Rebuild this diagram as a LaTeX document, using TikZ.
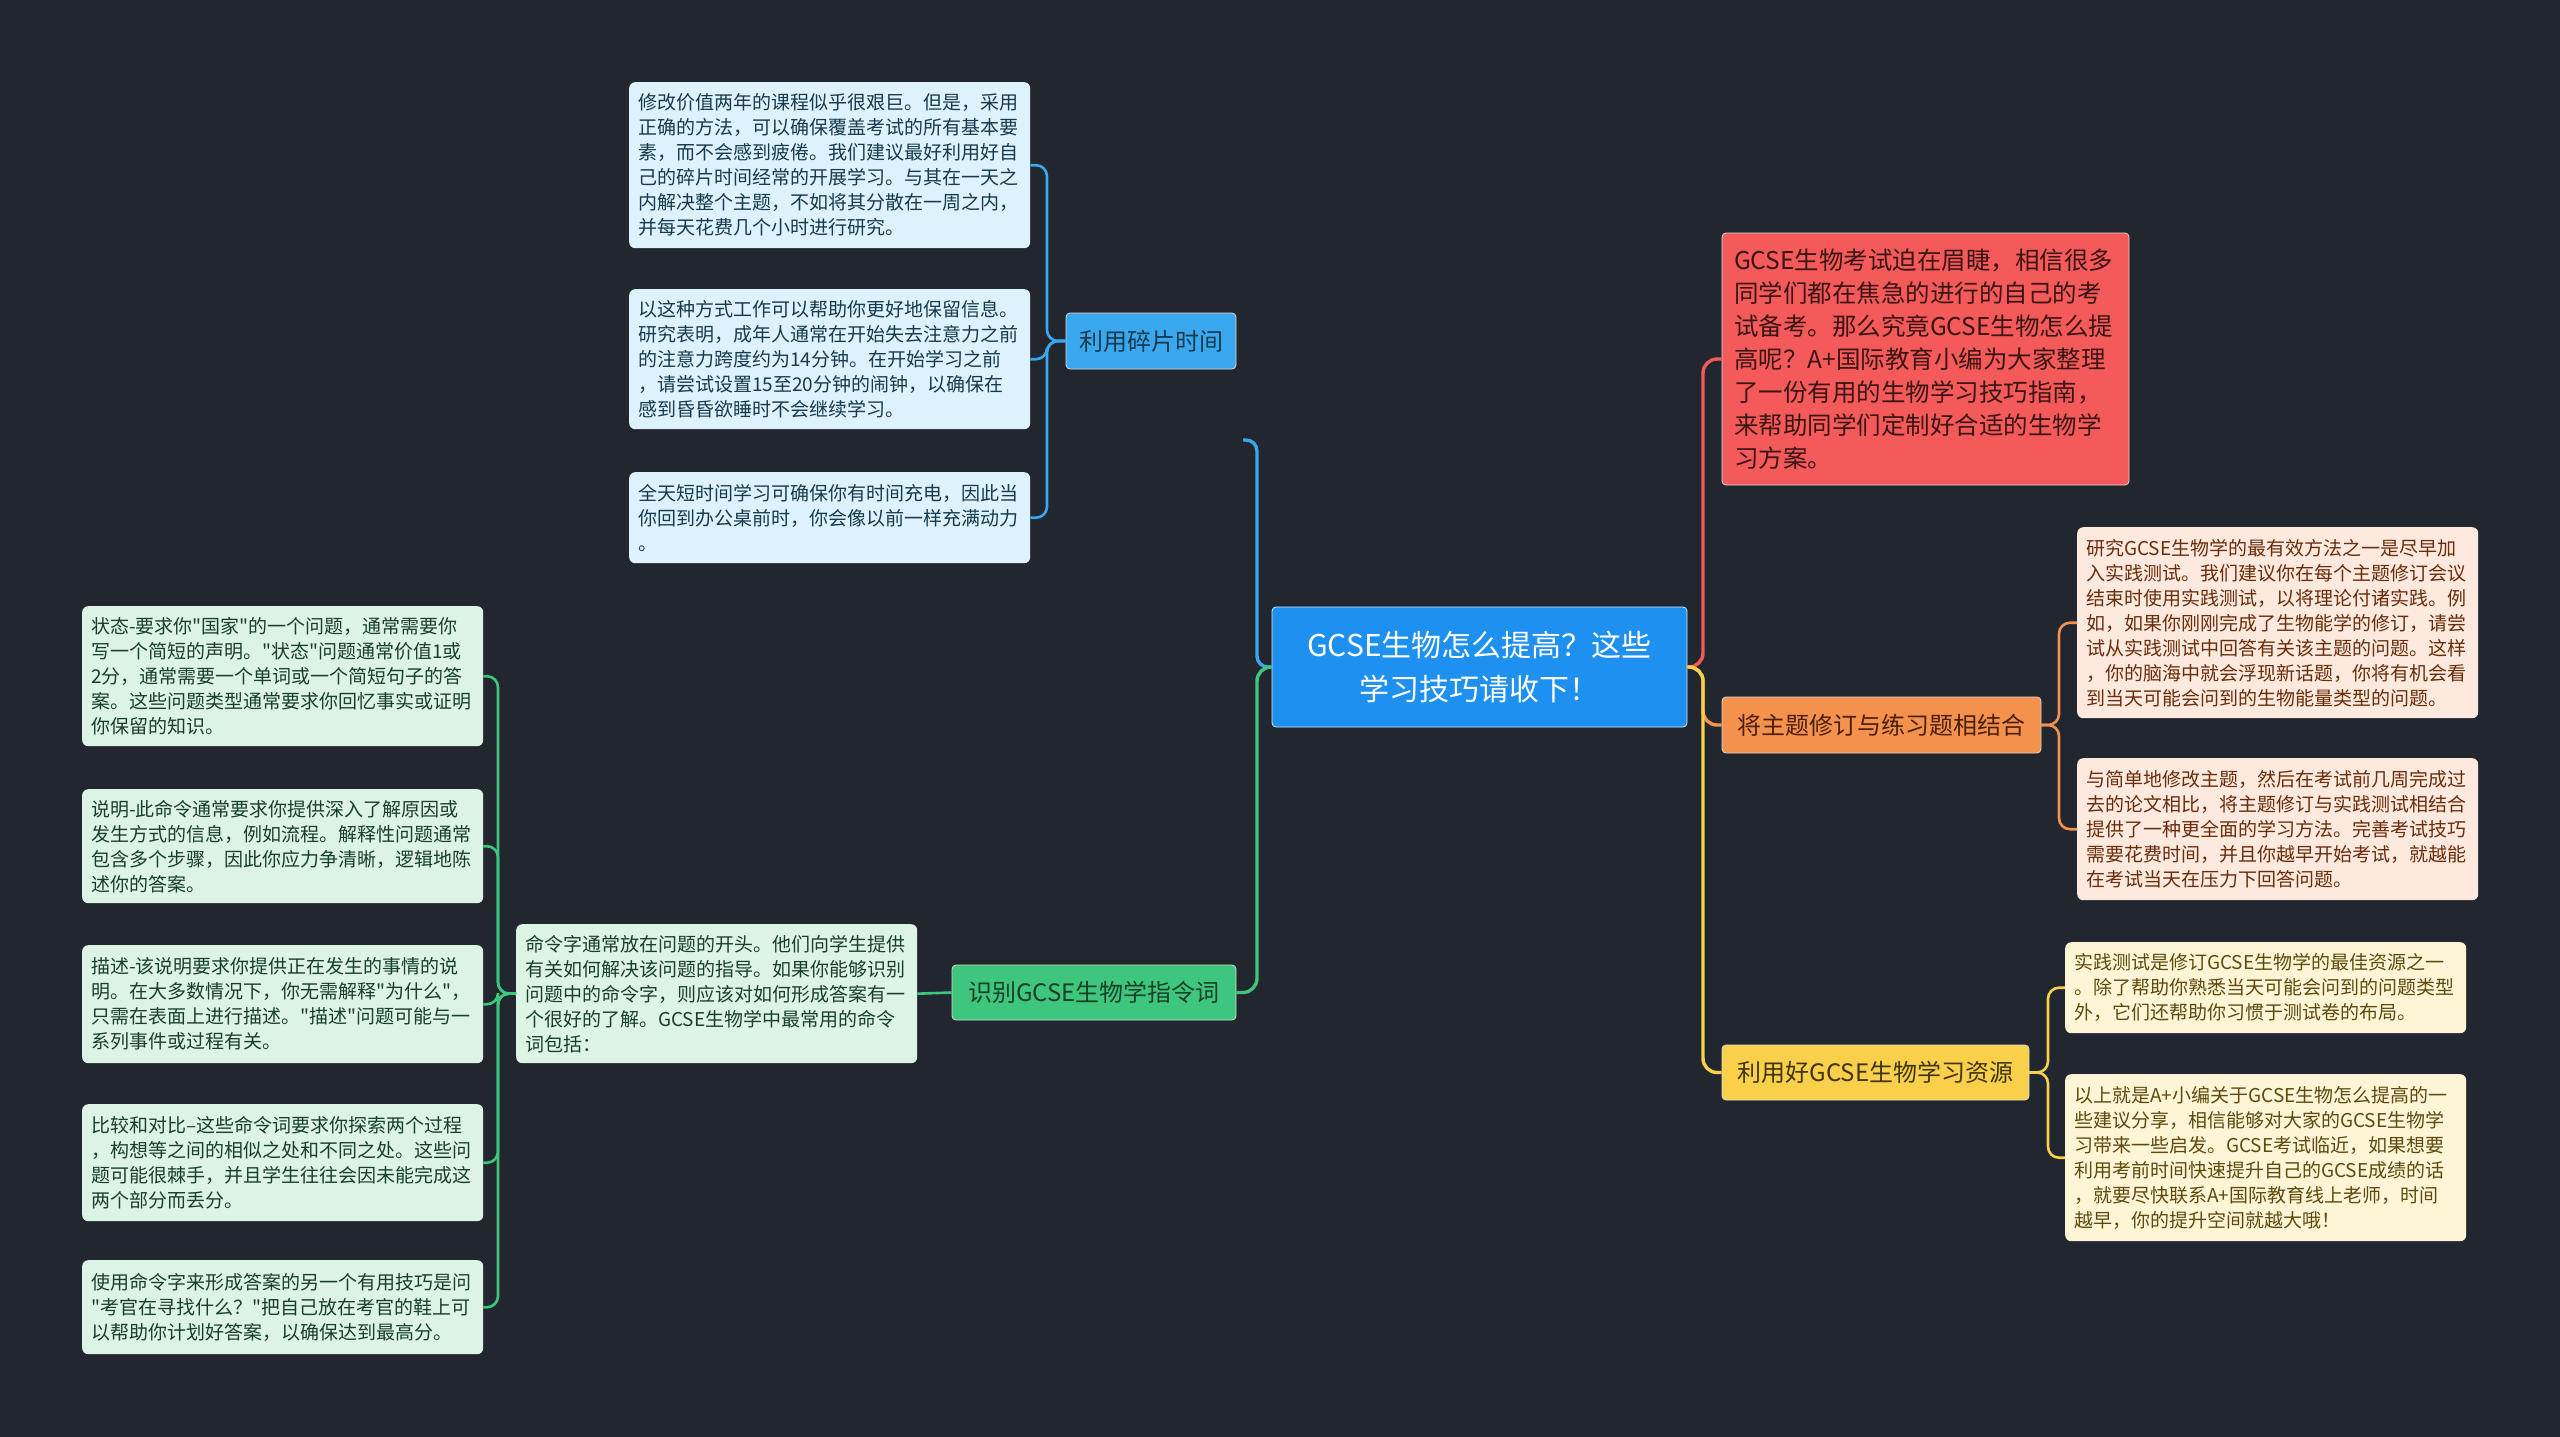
\documentclass[tikz,border=0pt]{standalone}
\usepackage{fontspec}
\newfontfamily\cjk{Noto Sans CJK SC}
\definecolor{bg}{HTML}{22262E}
\definecolor{cblue}{HTML}{1E90F0}
\definecolor{bblue}{HTML}{3AA8EE}
\definecolor{lblue}{HTML}{DDF2FC}
\definecolor{tblue}{HTML}{163A4E}
\definecolor{bgreen}{HTML}{3EC67C}
\definecolor{lgreen}{HTML}{DCF3E6}
\definecolor{tgreen}{HTML}{17402A}
\definecolor{bred}{HTML}{F45A5A}
\definecolor{tred}{HTML}{3B1414}
\definecolor{borange}{HTML}{F4914C}
\definecolor{lorange}{HTML}{FDE9DD}
\definecolor{torange}{HTML}{6A2D0C}
\definecolor{byellow}{HTML}{F8D04A}
\definecolor{lyellow}{HTML}{FDF5D6}
\definecolor{tyellow}{HTML}{5E4A0E}
\newcommand\leaffont{\cjk\fontsize{19}{25}\selectfont}
\newcommand\branchfont{\cjk\fontsize{24}{30}\selectfont}
\newcommand\redfont{\cjk\fontsize{24.5}{33}\selectfont}
\newcommand\centerfont{\cjk\fontsize{30}{44}\selectfont}
\begin{document}
\begin{tikzpicture}[x=1pt,y=-1pt,
  leaf/.style={rounded corners=6pt, text width=383pt, align=left, inner xsep=9pt, inner ysep=0pt, anchor=north west, font=\leaffont},
  bleaf/.style={leaf, fill=lblue, text=tblue},
  gleaf/.style={leaf, fill=lgreen, text=tgreen},
  oleaf/.style={leaf, fill=lorange, text=torange},
  yleaf/.style={leaf, fill=lyellow, text=tyellow},
  branch/.style={rounded corners=4pt, draw=white!85!black, line width=0.8pt, inner sep=0pt, align=center, font=\branchfont},
  conn/.style={line width=2.6pt, rounded corners=11pt},
  mconn/.style={line width=3.4pt, rounded corners=14pt}]
\path[fill=bg] (0,0) rectangle (2560,1437);

% centre
\node[rounded corners=4pt, fill=cblue, draw=white!80!cblue, line width=0.8pt, minimum width=415pt, minimum height=120pt, align=center, text=white, font=\centerfont, inner sep=0pt] (c) at (1479.5,667) {GCSE生物怎么提高？这些\\学习技巧请收下！};

% branches
\node[branch, fill=bblue, text=tblue, minimum width=170pt, minimum height=56pt] (b1) at (1151,341) {利用碎片时间};
\node[branch, fill=bgreen, text=tgreen, minimum width=284pt, minimum height=55pt] (b2) at (1094,992.5) {识别GCSE生物学指令词};
\node[branch, fill=bred, text=tred, minimum width=407pt, minimum height=252pt, text width=383pt, align=left, font=\redfont] (br) at (1925.5,359) {GCSE生物考试迫在眉睫，相信很多\\同学们都在焦急的进行的自己的考\\试备考。那么究竟GCSE生物怎么提\\高呢？A+国际教育小编为大家整理\\了一份有用的生物学习技巧指南，\\来帮助同学们定制好合适的生物学\\习方案。};
\node[branch, fill=borange, text=torange!70!black, minimum width=319pt, minimum height=56pt] (bo) at (1881.5,725) {将主题修订与练习题相结合};
\node[branch, fill=byellow, text=tyellow!70!black, minimum width=307pt, minimum height=55pt] (by) at (1875.5,1072.5) {利用好GCSE生物学习资源};

% blue leaves
\node[bleaf, minimum height=166pt] (l1) at (629,82) {修改价值两年的课程似乎很艰巨。但是，采用\\正确的方法，可以确保覆盖考试的所有基本要\\素，而不会感到疲倦。我们建议最好利用好自\\己的碎片时间经常的开展学习。与其在一天之\\内解决整个主题，不如将其分散在一周之内，\\并每天花费几个小时进行研究。};
\node[bleaf, minimum height=140pt] (l2) at (629,289) {以这种方式工作可以帮助你更好地保留信息。\\研究表明，成年人通常在开始失去注意力之前\\的注意力跨度约为14分钟。在开始学习之前\\，请尝试设置15至20分钟的闹钟，以确保在\\感到昏昏欲睡时不会继续学习。};
\node[bleaf, minimum height=91pt] (l3) at (629,472) {全天短时间学习可确保你有时间充电，因此当\\你回到办公桌前时，你会像以前一样充满动力\\。};

% green
\node[gleaf, minimum height=139pt] (gc) at (516,924) {命令字通常放在问题的开头。他们向学生提供\\有关如何解决该问题的指导。如果你能够识别\\问题中的命令字，则应该对如何形成答案有一\\个很好的了解。GCSE生物学中最常用的命令\\词包括：};
\node[gleaf, minimum height=140pt] (g1) at (82,606) {状态-要求你"国家"的一个问题，通常需要你\\写一个简短的声明。"状态"问题通常价值1或\\2分，通常需要一个单词或一个简短句子的答\\案。这些问题类型通常要求你回忆事实或证明\\你保留的知识。};
\node[gleaf, minimum height=114pt] (g2) at (82,789) {说明-此命令通常要求你提供深入了解原因或\\发生方式的信息，例如流程。解释性问题通常\\包含多个步骤，因此你应力争清晰，逻辑地陈\\述你的答案。};
\node[gleaf, minimum height=118pt] (g3) at (82,945) {描述-该说明要求你提供正在发生的事情的说\\明。在大多数情况下，你无需解释"为什么"，\\只需在表面上进行描述。"描述"问题可能与一\\系列事件或过程有关。};
\node[gleaf, minimum height=117pt] (g4) at (82,1104) {比较和对比–这些命令词要求你探索两个过程\\，构想等之间的相似之处和不同之处。这些问\\题可能很棘手，并且学生往往会因未能完成这\\两个部分而丢分。};
\node[gleaf, minimum height=94pt] (g5) at (82,1260) {使用命令字来形成答案的另一个有用技巧是问\\"考官在寻找什么？"把自己放在考官的鞋上可\\以帮助你计划好答案，以确保达到最高分。};

% orange
\node[oleaf, minimum height=191pt] (o1) at (2077,527) {研究GCSE生物学的最有效方法之一是尽早加\\入实践测试。我们建议你在每个主题修订会议\\结束时使用实践测试，以将理论付诸实践。例\\如，如果你刚刚完成了生物能学的修订，请尝\\试从实践测试中回答有关该主题的问题。这样\\，你的脑海中就会浮现新话题，你将有机会看\\到当天可能会问到的生物能量类型的问题。};
\node[oleaf, minimum height=142pt] (o2) at (2077,758) {与简单地修改主题，然后在考试前几周完成过\\去的论文相比，将主题修订与实践测试相结合\\提供了一种更全面的学习方法。完善考试技巧\\需要花费时间，并且你越早开始考试，就越能\\在考试当天在压力下回答问题。};

% yellow
\node[yleaf, minimum height=91pt] (y1) at (2065,942) {实践测试是修订GCSE生物学的最佳资源之一\\。除了帮助你熟悉当天可能会问到的问题类型\\外，它们还帮助你习惯于测试卷的布局。};
\node[yleaf, minimum height=167pt] (y2) at (2065,1074) {以上就是A+小编关于GCSE生物怎么提高的一\\些建议分享，相信能够对大家的GCSE生物学\\习带来一些启发。GCSE考试临近，如果想要\\利用考前时间快速提升自己的GCSE成绩的话\\，就要尽快联系A+国际教育线上老师，时间\\越早，你的提升空间就越大哦！};

% main connectors
\coordinate (bend) at (1243,440);
\draw[mconn, rounded corners=11pt, draw=bblue] (c.west) -- (1257,667) -- (1257,440) -- (bend);
\draw[mconn, draw=bgreen] (c.west) -- (1257,667) -- (1257,992.5) -- (b2.east);
\draw[mconn, draw=bred] (c.east) -- (1703,667) -- (1703,359) -- (br.west);
\draw[mconn, draw=borange] (c.east) -- (1703,667) -- (1703,725) -- (bo.west);
\draw[mconn, draw=byellow] (c.east) -- (1703,667) -- (1703,1072.5) -- (by.west);

% blue leaf connectors
\foreach \n in {l1,l2,l3}
  \draw[conn, draw=bblue] (b1.west) -- (1047,341) |- (\n.east);
% green
\draw[conn, draw=bgreen] (b2.west) -- (gc.east);
\foreach \n in {g1,g2,g3,g4,g5}
  \draw[conn, draw=bgreen] (gc.west) -- (498,993.5) |- (\n.east);
% orange
\foreach \n in {o1,o2}
  \draw[conn, draw=borange] (bo.east) -- (2059,725) |- (\n.west);
% yellow
\foreach \n in {y1,y2}
  \draw[conn, draw=byellow] (by.east) -- (2048,1072.5) |- (\n.west);
\end{tikzpicture}
\end{document}
